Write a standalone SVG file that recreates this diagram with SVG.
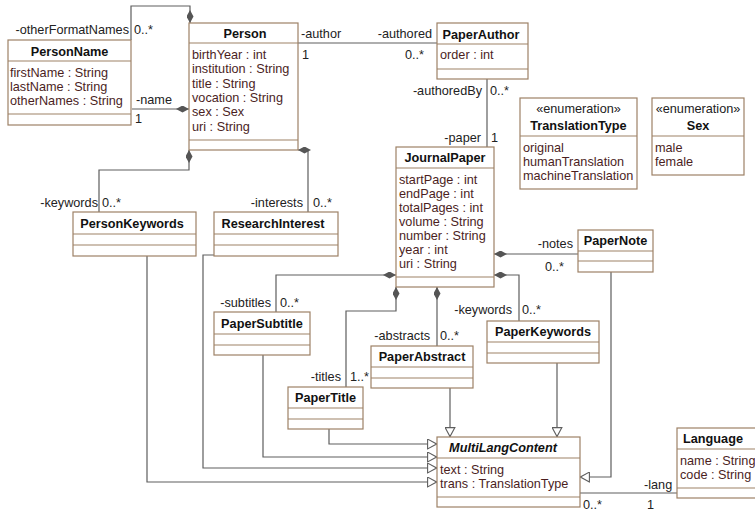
<svg xmlns="http://www.w3.org/2000/svg" width="755" height="514" viewBox="0 0 755 514">
<style>
text{font-family:"Liberation Sans",Arial,sans-serif;font-size:12.7px}
.box{fill:#fff;stroke:#9d8166;stroke-width:1.2}
.sep{stroke:#9d8166;stroke-width:1.2}
.hd{font-weight:bold;fill:#111;text-anchor:middle}
.it{font-style:italic}
.at{fill:#4b1e1e}
.st{fill:#222;text-anchor:middle}
.lb{fill:#222}
.r{text-anchor:end}
.con{fill:none;stroke:#5e5e5e;stroke-width:1.2}
.comp{marker-start:url(#dia)}
.gen{marker-end:url(#tri)}
</style>
<defs>
<marker id="dia" viewBox="0 0 13 7" refX="0" refY="3.5" markerWidth="13" markerHeight="7" markerUnits="userSpaceOnUse" orient="auto">
<path d="M0,3.5 L6.5,0 L13,3.5 L6.5,7 Z" fill="#555" stroke="none"/>
</marker>
<marker id="tri" viewBox="0 0 10 11" refX="10" refY="5.5" markerWidth="10" markerHeight="11" markerUnits="userSpaceOnUse" orient="auto">
<path d="M0.6,0.6 L9.6,5.5 L0.6,10.4 Z" fill="#fff" stroke="#5e5e5e" stroke-width="1.1"/>
</marker>
</defs>

<g id="connectors">
<path class="con comp" d="M190,23 V6 H131 V40"/>
<path class="con comp" d="M189,109 H132"/>
<path class="con comp" d="M189,150 V170 H99 V212"/>
<path class="con comp" d="M298,150 H308 V212"/>
<path class="con" d="M298,43 H437"/>
<path class="con" d="M487,79 V147"/>
<path class="con comp" d="M494,254 H578"/>
<path class="con comp" d="M494,275 H519 V321"/>
<path class="con comp" d="M396,275 H276 V312"/>
<path class="con comp" d="M396,287 V311 H346 V387"/>
<path class="con comp" d="M437,287 V346"/>
<path class="con gen" d="M329,429 V444 H437"/>
<path class="con gen" d="M263,355 V457 H437"/>
<path class="con gen" d="M214,255 H203 V468 H437"/>
<path class="con gen" d="M147,256 V482 H437"/>
<path class="con gen" d="M450,388 V437"/>
<path class="con gen" d="M557,363 V437"/>
<path class="con gen" d="M611,272 V477 H580"/>
<path class="con" d="M580,493 H677"/>
<text class="lb r" x="129" y="33.5">-otherFormatNames</text>
<text class="lb" x="134" y="33.5">0..*</text>
<text class="lb" x="136" y="104">-name</text>
<text class="lb" x="135" y="122.5">1</text>
<text class="lb" x="301" y="37.5">-author</text>
<text class="lb" x="302" y="58.5">1</text>
<text class="lb r" x="432" y="37.5">-authored</text>
<text class="lb r" x="424" y="58.5">0..*</text>
<text class="lb r" x="482" y="94.5">-authoredBy</text>
<text class="lb" x="490" y="94.5">0..*</text>
<text class="lb r" x="481" y="141.5">-paper</text>
<text class="lb" x="491" y="141.5">1</text>
<text class="lb r" x="98" y="206.5">-keywords</text>
<text class="lb" x="102" y="206.5">0..*</text>
<text class="lb r" x="303" y="206.5">-interests</text>
<text class="lb" x="313" y="206.5">0..*</text>
<text class="lb r" x="573" y="247.5">-notes</text>
<text class="lb" x="545" y="270.5">0..*</text>
<text class="lb r" x="512" y="313.5">-keywords</text>
<text class="lb" x="522" y="313.5">0..*</text>
<text class="lb r" x="271" y="306.5">-subtitles</text>
<text class="lb" x="280" y="306.5">0..*</text>
<text class="lb r" x="341" y="380.5">-titles</text>
<text class="lb" x="350" y="380.5">1..*</text>
<text class="lb r" x="430" y="339.5">-abstracts</text>
<text class="lb" x="440" y="339.5">0..*</text>
<text class="lb" x="644" y="488.5">-lang</text>
<text class="lb" x="647" y="509">1</text>
<text class="lb" x="583" y="509">0..*</text>
</g>

<g id="PersonName">
<rect class="box" x="8" y="40" width="123" height="85"/>
<line class="sep" x1="8" y1="61" x2="131" y2="61"/>
<line class="sep" x1="8" y1="114" x2="131" y2="114"/>
<text class="hd" x="69.5" y="55.5">PersonName</text>
<text class="at" x="10" y="76.5">firstName : String</text>
<text class="at" x="10" y="90.7">lastName : String</text>
<text class="at" x="10" y="104.9">otherNames : String</text>
</g>

<g id="Person">
<rect class="box" x="189" y="23" width="109" height="127"/>
<line class="sep" x1="189" y1="43" x2="298" y2="43"/>
<line class="sep" x1="189" y1="140" x2="298" y2="140"/>
<text class="hd" x="245" y="38">Person</text>
<text class="at" x="192" y="59">birthYear : int</text>
<text class="at" x="192" y="73.3">institution : String</text>
<text class="at" x="192" y="87.6">title : String</text>
<text class="at" x="192" y="101.9">vocation : String</text>
<text class="at" x="192" y="116.2">sex : Sex</text>
<text class="at" x="192" y="130.5">uri : String</text>
</g>

<g id="PaperAuthor">
<rect class="box" x="437" y="23" width="91" height="56"/>
<line class="sep" x1="437" y1="44" x2="528" y2="44"/>
<line class="sep" x1="437" y1="69" x2="528" y2="69"/>
<text class="hd" x="481" y="38.5">PaperAuthor</text>
<text class="at" x="440" y="58.5">order : int</text>
</g>

<g id="TranslationType">
<rect class="box" x="520" y="98" width="117" height="91"/>
<line class="sep" x1="520" y1="136" x2="637" y2="136"/>
<text class="st" x="578.5" y="112.5">«enumeration»</text>
<text class="hd" x="578.5" y="129.5">TranslationType</text>
<text class="at" x="523" y="151.5">original</text>
<text class="at" x="523" y="165.5">humanTranslation</text>
<text class="at" x="523" y="179.5">machineTranslation</text>
</g>

<g id="Sex">
<rect class="box" x="652" y="98" width="92" height="77"/>
<line class="sep" x1="652" y1="136" x2="744" y2="136"/>
<text class="st" x="698" y="112.5">«enumeration»</text>
<text class="hd" x="698" y="129.5">Sex</text>
<text class="at" x="655" y="151.5">male</text>
<text class="at" x="655" y="165.5">female</text>
</g>

<g id="JournalPaper">
<rect class="box" x="396" y="147" width="98" height="140"/>
<line class="sep" x1="396" y1="168" x2="494" y2="168"/>
<line class="sep" x1="396" y1="277" x2="494" y2="277"/>
<text class="hd" x="445" y="162">JournalPaper</text>
<text class="at" x="399" y="183.5">startPage : int</text>
<text class="at" x="399" y="197.5">endPage : int</text>
<text class="at" x="399" y="211.5">totalPages : int</text>
<text class="at" x="399" y="225.5">volume : String</text>
<text class="at" x="399" y="239.5">number : String</text>
<text class="at" x="399" y="253.5">year : int</text>
<text class="at" x="399" y="267.5">uri : String</text>
</g>

<g id="PersonKeywords">
<rect class="box" x="73" y="212" width="123" height="44"/>
<line class="sep" x1="73" y1="234" x2="196" y2="234"/>
<line class="sep" x1="73" y1="245" x2="196" y2="245"/>
<text class="hd" x="132" y="227.5">PersonKeywords</text>
</g>

<g id="ResearchInterest">
<rect class="box" x="214" y="212" width="124" height="44"/>
<line class="sep" x1="214" y1="234" x2="338" y2="234"/>
<line class="sep" x1="214" y1="245" x2="338" y2="245"/>
<text class="hd" x="273" y="227.5">ResearchInterest</text>
</g>

<g id="PaperNote">
<rect class="box" x="578" y="230" width="75" height="42"/>
<line class="sep" x1="578" y1="251" x2="653" y2="251"/>
<line class="sep" x1="578" y1="261" x2="653" y2="261"/>
<text class="hd" x="615.5" y="245">PaperNote</text>
</g>

<g id="PaperSubtitle">
<rect class="box" x="214" y="312" width="96" height="43"/>
<line class="sep" x1="214" y1="334" x2="310" y2="334"/>
<line class="sep" x1="214" y1="345" x2="310" y2="345"/>
<text class="hd" x="262" y="327.5">PaperSubtitle</text>
</g>

<g id="PaperKeywords">
<rect class="box" x="487" y="321" width="112" height="42"/>
<line class="sep" x1="487" y1="342" x2="599" y2="342"/>
<line class="sep" x1="487" y1="353" x2="599" y2="353"/>
<text class="hd" x="543" y="336">PaperKeywords</text>
</g>

<g id="PaperAbstract">
<rect class="box" x="371" y="346" width="102" height="42"/>
<line class="sep" x1="371" y1="367" x2="473" y2="367"/>
<line class="sep" x1="371" y1="378" x2="473" y2="378"/>
<text class="hd" x="422" y="361">PaperAbstract</text>
</g>

<g id="PaperTitle">
<rect class="box" x="288" y="387" width="75" height="42"/>
<line class="sep" x1="288" y1="408" x2="363" y2="408"/>
<line class="sep" x1="288" y1="419" x2="363" y2="419"/>
<text class="hd" x="325.5" y="402">PaperTitle</text>
</g>

<g id="MultiLangContent">
<rect class="box" x="437" y="437" width="143" height="70"/>
<line class="sep" x1="437" y1="458" x2="580" y2="458"/>
<line class="sep" x1="437" y1="497" x2="580" y2="497"/>
<text class="hd it" x="503" y="452">MultiLangContent</text>
<text class="at" x="440" y="473.5">text : String</text>
<text class="at" x="440" y="487.5">trans : TranslationType</text>
</g>

<g id="Language">
<rect class="box" x="677" y="428" width="82" height="70"/>
<line class="sep" x1="677" y1="449" x2="759" y2="449"/>
<line class="sep" x1="677" y1="488" x2="759" y2="488"/>
<text class="hd" x="713" y="443">Language</text>
<text class="at" x="680" y="464.5">name : String</text>
<text class="at" x="680" y="478.5">code : String</text>
</g>
</svg>
